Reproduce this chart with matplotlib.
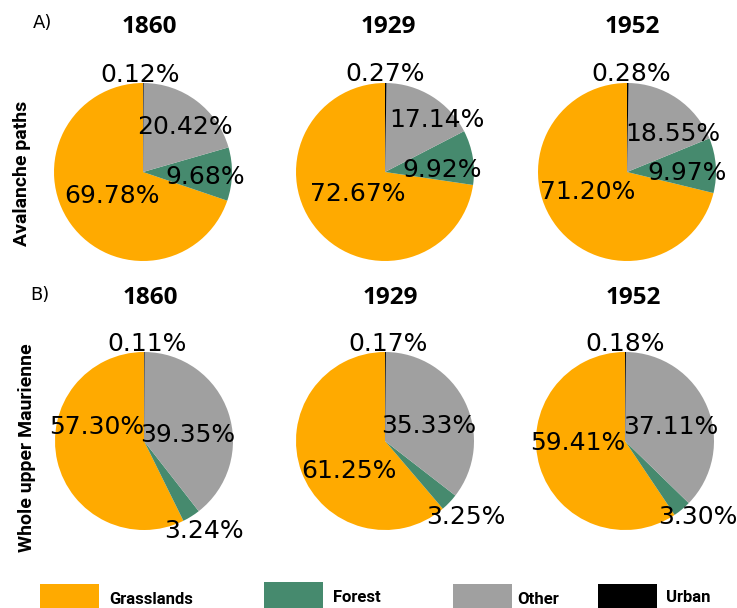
import matplotlib
matplotlib.use("Agg")
import matplotlib.pyplot as plt
from matplotlib.patches import Rectangle

# ---------------- data ----------------
categories = ["Grasslands", "Forest", "Other", "Urban"]
years = ["1860", "1929", "1952"]
row_labels = ["Avalanche paths", "Whole upper Maurienne"]
panel_tags = ["A)", "B)"]

avalanche_1860 = [69.78, 9.68, 20.42, 0.12]
avalanche_1929 = [72.67, 9.92, 17.14, 0.27]
avalanche_1952 = [71.20, 9.97, 18.55, 0.28]
whole_1860 = [57.30, 3.24, 39.35, 0.11]
whole_1929 = [61.25, 3.25, 35.33, 0.17]
whole_1952 = [59.41, 3.30, 37.11, 0.18]

rows = [[avalanche_1860, avalanche_1929, avalanche_1952],
        [whole_1860, whole_1929, whole_1952]]

# ---------------- style / layout ----------------
colors = ["#FFAA00", "#468A6E", "#A0A0A0", "#000000"]
W, H = 737, 608
R = 89  # pie radius in px
centers = [[(143, 172), (385, 172), (627, 172)],
           [(144, 441), (385, 441), (625, 441)]]
# label offsets in radius units, order [Grasslands, Forest, Other, Urban]
label_pos = [
    [[(-0.35, -0.24), (0.70, -0.03), (0.47, 0.53), (-0.03, 1.12)],
     [(-0.31, -0.22), (0.64, 0.05), (0.58, 0.61), (0.00, 1.13)],
     [(-0.44, -0.20), (0.68, 0.02), (0.51, 0.45), (0.05, 1.13)]],
    [[(-0.53, 0.19), (0.67, -0.98), (0.49, 0.10), (0.03, 1.12)],
     [(-0.41, -0.31), (0.91, -0.83), (0.49, 0.20), (0.04, 1.12)],
     [(-0.53, 0.00), (0.82, -0.83), (0.51, 0.19), (0.00, 1.12)]],
]
title_pos = [[(149, 27), (388, 27), (632, 27)],
             [(150, 298), (390, 298), (633, 298)]]

fig = plt.figure(figsize=(W / 100, H / 100), dpi=100)
fig.patch.set_facecolor("white")

span = 1.25
for r, row in enumerate(rows):
    for c, vals in enumerate(row):
        cx, cy = centers[r][c]
        size = 2 * span * R
        ax = fig.add_axes([(cx - size / 2) / W, 1 - (cy + size / 2) / H,
                           size / W, size / H])
        wedges, texts, autotexts = ax.pie(
            vals, colors=colors, startangle=90, counterclock=True,
            autopct="%.2f%%", radius=1,
            wedgeprops=dict(linewidth=0),
            textprops=dict(fontsize=18, color="black", family="DejaVu Sans"))
        for t, (dx, dy) in zip(autotexts, label_pos[r][c]):
            t.set_position((dx, dy))
            t.set_ha("center")
            t.set_va("center_baseline")
        ax.set_xlim(-span, span)
        ax.set_ylim(-span, span)
        ax.set_aspect("equal")
        ax.axis("off")
        tx, ty = title_pos[r][c]
        fig.text(tx / W, 1 - ty / H, years[c], ha="center", va="center",
                 fontsize=17.5, fontweight="bold", family="Open Sans")

# panel tags
fig.text(33 / W, 1 - 23 / H, panel_tags[0], ha="left", va="center", fontsize=13)
fig.text(30 / W, 1 - 295 / H, panel_tags[1], ha="left", va="center", fontsize=13)

# row labels
fig.text(22 / W, 1 - 173 / H, row_labels[0], rotation=90, ha="center",
         va="center", fontsize=14, fontweight="bold", family="Roboto")
fig.text(27 / W, 1 - 448 / H, row_labels[1], rotation=90, ha="center",
         va="center", fontsize=14, fontweight="bold", family="Roboto")

# legend
leg_patch_x = [40, 264, 453, 598]
leg_patch_top = [584, 582, 584, 584]
leg_text_x = [109, 333, 517, 666]
leg_text_y = [600, 597, 600, 597]
for i, cat in enumerate(categories):
    x0 = leg_patch_x[i]
    top = leg_patch_top[i]
    fig.patches.append(Rectangle((x0 / W, 0), 59 / W, (H - top) / H,
                                 transform=fig.transFigure,
                                 facecolor=colors[i], edgecolor="none"))
    fig.text(leg_text_x[i] / W, 1 - leg_text_y[i] / H, cat, ha="left",
             va="center", fontsize=12, fontweight="bold", family="Roboto")

fig.savefig("out.png", dpi=100)
